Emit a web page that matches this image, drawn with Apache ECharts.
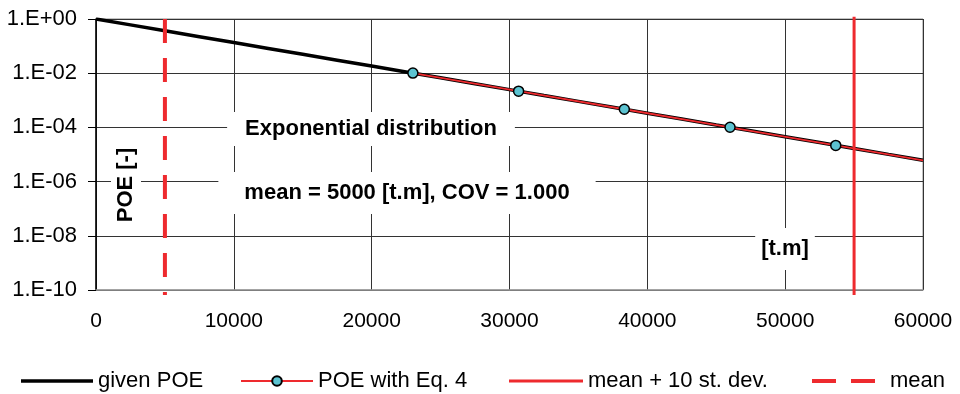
<!DOCTYPE html>
<html>
<head>
<meta charset="utf-8">
<script src="https://cdn.jsdelivr.net/npm/echarts@6/dist/echarts.min.js"></script>
<style>
html,body{margin:0;padding:0;background:#fff;}
#chart{width:960px;height:394px;}
</style>
</head>
<body>
<div id="chart"></div>
<script>
// given POE
var givenX = [0, 2500, 5000, 7500, 10000, 12500, 15000, 17500, 20000, 22500, 25000, 27500, 30000,
    32500, 35000, 37500, 40000, 42500, 45000, 47500, 50000, 52500, 55000, 57500, 60000];
var givenY = [1, 0.607, 0.368, 0.223, 0.135, 0.0821, 0.0498, 0.0302, 0.0183, 0.0111, 0.00674, 0.00409, 0.00248,
    0.0015, 0.000912, 0.000553, 0.000335, 0.000203, 0.000123, 0.0000749, 0.0000454, 0.0000275, 0.0000167, 0.0000101, 0.00000614];

// POE with Eq. 4 (red with cyan markers)
var eq4X = [22990, 30660, 38330, 46000, 53670, 60000];
var eq4Y = [0.0101, 0.00217, 0.000467, 0.000101, 0.0000217, 0.0000061];

// vertical markers
var sdevX = [55000, 55000];
var sdevY = [1.2, 0.000000000066];
var meanX = [5000, 5000];
var meanY = [1, 0.000000000066];

var xTicks = {min: 0, max: 60000, step: 10000};
var legendNames = ['given POE', 'POE with Eq. 4', 'mean + 10 st. dev.', 'mean'];

var RED = '#ee2a2e';
var FONT = 'Liberation Sans, Arial, sans-serif';

function zip(xs, ys){
    var out = [];
    for (var i = 0; i < xs.length; i++) out.push([xs[i], ys[i]]);
    return out;
}

function eFormat(v){
    var e = Math.round(Math.log10(v));
    var s = Math.abs(e) < 10 ? '0' + Math.abs(e) : '' + Math.abs(e);
    return '1.E' + (e < 0 ? '-' : '+') + s;
}

var eq4Data = zip(eq4X, eq4Y);
// last point is only the line end, no marker
eq4Data[eq4Data.length - 1] = {value: eq4Data[eq4Data.length - 1], symbol: 'none'};

function legendAt(left, item, width, height, pad){
    return {
        left: left, top: 365,
        itemWidth: width, itemHeight: height,
        data: [item],
        selectedMode: false,
        textStyle: {fontFamily: FONT, fontSize: 22, color: '#000', padding: pad || 0}
    };
}

function boxText(text, x, y, padding, rot){
    return {
        type: 'text', x: x, y: y, rotation: rot || 0, z: 50,
        style: {
            text: text, align: 'center', verticalAlign: 'middle',
            font: 'bold 22px ' + FONT, fill: '#000',
            backgroundColor: '#fff', padding: padding
        }
    };
}

var chart = echarts.init(document.getElementById('chart'));
chart.setOption({
    animation: false,
    backgroundColor: '#fff',
    grid: {left: 96, right: 37, top: 19, bottom: 104, show: true, borderColor: '#888', borderWidth: 1},
    xAxis: {
        type: 'value', min: xTicks.min, max: xTicks.max, interval: xTicks.step,
        axisLine: {lineStyle: {color: '#999', width: 1.5}},
        axisTick: {show: false},
        axisLabel: {margin: 21, fontFamily: FONT, fontSize: 21, color: '#000',
            formatter: function(v){ return String(v); }},
        splitLine: {lineStyle: {color: '#333', width: 1}}
    },
    yAxis: {
        type: 'log', logBase: 10, min: 1e-10, max: 1, interval: 2,
        axisLine: {show: true, lineStyle: {color: '#000', width: 1.5}},
        axisTick: {show: true, length: 8, lineStyle: {color: '#000'}},
        axisLabel: {margin: 19, fontFamily: FONT, fontSize: 22, color: '#000', formatter: eFormat},
        splitLine: {lineStyle: {color: '#333', width: 1}}
    },
    legend: [
        legendAt(16, {name: legendNames[0], icon: 'rect'}, 72, 3.5),
        legendAt(235, {name: legendNames[1]}, 72, 12),
        legendAt(504, {name: legendNames[2], icon: 'rect'}, 74, 3),
        legendAt(807, {name: legendNames[3], icon: 'path://M0,0h24v4h-24z M39,0h24v4h-24z'}, 63, 4, [0, 0, 0, 10])
    ],
    graphic: [
        boxText('Exponential distribution', 371, 129, [6, 18, 6, 18]),
        boxText('mean = 5000 [t.m], COV = 1.000', 407, 193, [10, 26, 10, 26]),
        boxText('POE [-]', 126, 185, [4, 6, 4, 6], Math.PI / 2),
        boxText('[t.m]', 785, 249, [10, 6, 10, 6])
    ],
    series: [
        {
            name: legendNames[0], type: 'line', data: zip(givenX, givenY),
            symbol: 'none', z: 3,
            lineStyle: {color: '#000', width: 3.5}, itemStyle: {color: '#000'}
        },
        {
            name: legendNames[1], type: 'line', data: eq4Data,
            symbol: 'circle', symbolSize: 10, z: 4,
            lineStyle: {color: RED, width: 1.8},
            itemStyle: {color: '#5cc3d1', borderColor: '#000', borderWidth: 1.5}
        },
        {
            name: legendNames[2], type: 'line', data: zip(sdevX, sdevY),
            symbol: 'none', clip: false, z: 5,
            lineStyle: {color: RED, width: 3}, itemStyle: {color: RED}
        },
        {
            name: legendNames[3], type: 'line', data: zip(meanX, meanY),
            symbol: 'none', clip: false, z: 5,
            lineStyle: {color: RED, width: 4, type: [24, 15]}, itemStyle: {color: RED}
        }
    ]
});
</script>
</body>
</html>
